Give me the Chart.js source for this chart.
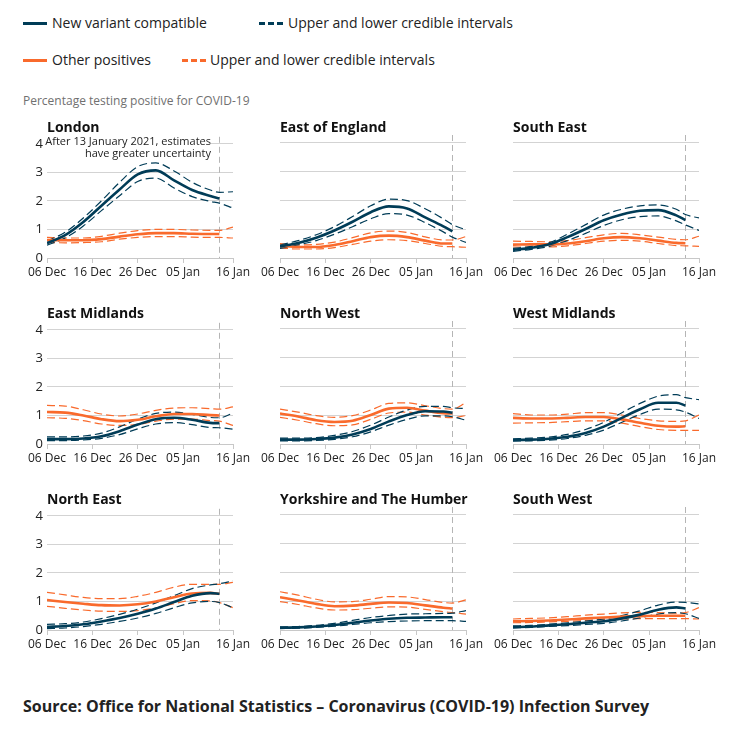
<!DOCTYPE html>
<html><head><meta charset="utf-8">
<script src="https://cdn.jsdelivr.net/npm/chart.js@4.4.1/dist/chart.umd.min.js"></script>
<style>
html,body{margin:0;padding:0;background:#fff;}
body{width:742px;height:729px;position:relative;overflow:hidden;font-family:"Open Sans",sans-serif;color:#222;}
.abs{position:absolute;white-space:nowrap;}
.leg{font-size:14px;line-height:18px;}
.sw{position:absolute;height:3px;width:24px;}
.ttl{font-size:14px;font-weight:bold;line-height:18px;color:#111;}
canvas{position:absolute;}
.note{font-size:11px;line-height:11.6px;text-align:right;}
.note span.bg{background:#fff;}
</style></head>
<body>
<script>
// ---- data ----
const X_TICK_DAYS = [0, 10, 20, 30, 41];
const X_TICK_LABELS = ['06 Dec', '16 Dec', '26 Dec', '05 Jan', '16 Jan'];
const Y_TICKS = [0, 1, 2, 3, 4];
const CUTOFF_DAY = 38; // 13 January
const DAYS_MAIN = [0, 4, 8, 12, 16, 20, 24, 28, 32, 36, 38];
const DAYS_CI = [0, 4, 8, 12, 16, 20, 24, 28, 32, 36, 38, 41];
const REGION_NAMES = ['London', 'East of England', 'South East', 'East Midlands', 'North West', 'West Midlands', 'North East', 'Yorkshire and The Humber', 'South West'];

const LON_NV = [0.52,0.8,1.26,1.83,2.4,2.93,3.07,2.72,2.38,2.17,2.08];
const LON_NV_HI = [0.6,0.9,1.4,2.0,2.65,3.2,3.33,3.05,2.65,2.38,2.3,2.32];
const LON_NV_LO = [0.45,0.7,1.12,1.66,2.18,2.68,2.8,2.45,2.15,1.98,1.92,1.75];
const LON_OP = [0.63,0.62,0.62,0.66,0.75,0.83,0.87,0.87,0.85,0.84,0.84];
const LON_OP_HI = [0.72,0.7,0.7,0.76,0.87,0.96,1.0,1.0,0.98,0.97,0.97,1.08];
const LON_OP_LO = [0.55,0.53,0.54,0.57,0.66,0.72,0.75,0.75,0.73,0.72,0.72,0.7];

const EOE_NV = [0.4,0.52,0.7,0.95,1.25,1.58,1.78,1.71,1.4,1.09,0.92];
const EOE_NV_HI = [0.45,0.6,0.8,1.08,1.43,1.8,2.03,1.98,1.7,1.35,1.15,0.97];
const EOE_NV_LO = [0.33,0.45,0.6,0.82,1.08,1.35,1.53,1.48,1.22,0.9,0.72,0.54];
const EOE_OP = [0.42,0.38,0.38,0.45,0.58,0.72,0.77,0.72,0.6,0.5,0.5];
const EOE_OP_HI = [0.5,0.45,0.47,0.55,0.7,0.87,0.93,0.88,0.73,0.62,0.62,0.74];
const EOE_OP_LO = [0.35,0.31,0.31,0.36,0.47,0.58,0.63,0.6,0.5,0.4,0.39,0.37];

const SE_NV = [0.28,0.35,0.47,0.72,1.0,1.3,1.5,1.63,1.65,1.47,1.31];
const SE_NV_HI = [0.33,0.4,0.53,0.82,1.15,1.48,1.68,1.8,1.83,1.68,1.5,1.38];
const SE_NV_LO = [0.23,0.3,0.4,0.6,0.85,1.12,1.32,1.43,1.45,1.28,1.14,0.95];
const SE_OP = [0.46,0.47,0.47,0.5,0.58,0.68,0.72,0.68,0.6,0.52,0.51];
const SE_OP_HI = [0.58,0.57,0.56,0.6,0.7,0.8,0.85,0.8,0.72,0.64,0.63,0.75];
const SE_OP_LO = [0.38,0.38,0.38,0.42,0.5,0.58,0.61,0.58,0.5,0.43,0.42,0.4];

const EM_NV = [0.17,0.17,0.19,0.27,0.45,0.68,0.87,0.92,0.85,0.74,0.73];
const EM_NV_HI = [0.25,0.25,0.28,0.38,0.6,0.87,1.07,1.12,1.04,0.93,0.92,1.08];
const EM_NV_LO = [0.12,0.12,0.14,0.2,0.33,0.53,0.7,0.75,0.68,0.58,0.57,0.52];
const EM_OP = [1.12,1.1,1.0,0.87,0.8,0.85,0.97,1.05,1.05,1.01,1.0];
const EM_OP_HI = [1.35,1.33,1.2,1.05,0.98,1.05,1.18,1.26,1.27,1.24,1.22,1.3];
const EM_OP_LO = [0.92,0.9,0.82,0.7,0.65,0.68,0.8,0.87,0.87,0.82,0.8,0.65];

const NW_NV = [0.15,0.15,0.17,0.22,0.33,0.52,0.78,1.0,1.13,1.12,1.08];
const NW_NV_HI = [0.2,0.2,0.22,0.3,0.43,0.65,0.93,1.17,1.3,1.3,1.25,1.22];
const NW_NV_LO = [0.11,0.11,0.12,0.16,0.25,0.42,0.65,0.85,0.97,0.97,0.94,0.82];
const NW_OP = [1.05,0.95,0.82,0.76,0.8,1.0,1.22,1.25,1.15,1.06,1.05];
const NW_OP_HI = [1.2,1.1,0.98,0.92,0.98,1.17,1.4,1.42,1.32,1.22,1.2,1.43];
const NW_OP_LO = [0.92,0.82,0.7,0.63,0.66,0.85,1.07,1.1,1.0,0.92,0.91,0.98];

const WM_NV = [0.14,0.15,0.18,0.25,0.38,0.6,0.9,1.2,1.42,1.42,1.33];
const WM_NV_HI = [0.18,0.2,0.24,0.33,0.5,0.75,1.08,1.4,1.65,1.7,1.6,1.53];
const WM_NV_LO = [0.1,0.11,0.13,0.19,0.3,0.48,0.75,1.02,1.2,1.18,1.1,0.88];
const WM_OP = [0.9,0.88,0.88,0.9,0.93,0.93,0.85,0.73,0.63,0.6,0.61];
const WM_OP_HI = [1.05,1.0,1.0,1.03,1.08,1.08,1.0,0.88,0.8,0.78,0.8,1.0];
const WM_OP_LO = [0.72,0.73,0.74,0.77,0.8,0.8,0.72,0.6,0.5,0.47,0.47,0.47];

const NE_NV = [0.11,0.14,0.2,0.3,0.42,0.57,0.75,0.98,1.2,1.29,1.27];
const NE_NV_HI = [0.2,0.22,0.28,0.4,0.55,0.73,0.95,1.2,1.45,1.58,1.62,1.72];
const NE_NV_LO = [0.05,0.07,0.12,0.2,0.3,0.42,0.58,0.78,0.95,1.0,0.96,0.78];
const NE_OP = [1.05,0.98,0.92,0.87,0.86,0.9,1.0,1.15,1.28,1.3,1.26];
const NE_OP_HI = [1.32,1.23,1.14,1.1,1.1,1.18,1.32,1.5,1.6,1.6,1.6,1.67];
const NE_OP_LO = [0.83,0.76,0.7,0.66,0.65,0.68,0.77,0.92,1.03,1.02,0.96,0.78];

const YH_NV = [0.08,0.09,0.12,0.17,0.25,0.33,0.39,0.42,0.43,0.44,0.44];
const YH_NV_HI = [0.11,0.12,0.16,0.23,0.33,0.43,0.5,0.55,0.56,0.57,0.58,0.67];
const YH_NV_LO = [0.05,0.06,0.09,0.13,0.19,0.25,0.29,0.31,0.32,0.32,0.32,0.3];
const YH_OP = [1.13,1.02,0.9,0.82,0.84,0.9,0.95,0.93,0.85,0.77,0.74];
const YH_OP_HI = [1.32,1.2,1.06,0.97,0.98,1.06,1.15,1.14,1.05,0.95,0.93,1.04];
const YH_OP_LO = [0.98,0.88,0.76,0.69,0.7,0.75,0.8,0.79,0.71,0.63,0.6,0.55];

const SW_NV = [0.1,0.12,0.16,0.2,0.25,0.3,0.4,0.53,0.7,0.78,0.74];
const SW_NV_HI = [0.14,0.16,0.2,0.25,0.31,0.38,0.5,0.66,0.86,0.96,0.95,0.9];
const SW_NV_LO = [0.07,0.09,0.12,0.15,0.19,0.23,0.31,0.42,0.55,0.6,0.56,0.4];
const SW_OP = [0.3,0.31,0.33,0.36,0.4,0.43,0.46,0.48,0.49,0.49,0.49];
const SW_OP_HI = [0.38,0.4,0.42,0.46,0.51,0.55,0.59,0.61,0.6,0.58,0.6,0.77];
const SW_OP_LO = [0.25,0.26,0.28,0.3,0.33,0.36,0.38,0.39,0.39,0.39,0.39,0.38];

// ---- build ----
const REGION_SERIES = [
  [LON_NV, LON_NV_HI, LON_NV_LO, LON_OP, LON_OP_HI, LON_OP_LO],
  [EOE_NV, EOE_NV_HI, EOE_NV_LO, EOE_OP, EOE_OP_HI, EOE_OP_LO],
  [SE_NV, SE_NV_HI, SE_NV_LO, SE_OP, SE_OP_HI, SE_OP_LO],
  [EM_NV, EM_NV_HI, EM_NV_LO, EM_OP, EM_OP_HI, EM_OP_LO],
  [NW_NV, NW_NV_HI, NW_NV_LO, NW_OP, NW_OP_HI, NW_OP_LO],
  [WM_NV, WM_NV_HI, WM_NV_LO, WM_OP, WM_OP_HI, WM_OP_LO],
  [NE_NV, NE_NV_HI, NE_NV_LO, NE_OP, NE_OP_HI, NE_OP_LO],
  [YH_NV, YH_NV_HI, YH_NV_LO, YH_OP, YH_OP_HI, YH_OP_LO],
  [SW_NV, SW_NV_HI, SW_NV_LO, SW_OP, SW_OP_HI, SW_OP_LO]
];

const DARK = '#003c57';
const ORANGE = '#f96a2c';
const GRID = '#d3d3d3';
const FONT = '"Open Sans", sans-serif';

function addDiv(cls, left, top, html, extra) {
  const d = document.createElement('div');
  d.className = 'abs ' + cls;
  d.style.left = left + 'px';
  d.style.top = top + 'px';
  d.innerHTML = html;
  if (extra) Object.assign(d.style, extra);
  document.body.appendChild(d);
  return d;
}

// Legend
function swatch(left, y, color, dashed) {
  const d = document.createElement('div');
  d.className = 'sw';
  d.style.left = left + 'px';
  d.style.top = (y - 1.5) + 'px';
  d.style.background = dashed
    ? 'repeating-linear-gradient(to right,' + color + ' 0 6px, transparent 6px 9px)'
    : color;
  document.body.appendChild(d);
}
swatch(23, 23, DARK, false);
addDiv('leg', 52, 14, 'New variant compatible');
swatch(259, 23, DARK, true);
addDiv('leg', 288, 14, 'Upper and lower credible intervals');
swatch(23, 60, ORANGE, false);
addDiv('leg', 52, 51, 'Other positives');
swatch(182, 60, ORANGE, true);
addDiv('leg', 210, 51, 'Upper and lower credible intervals');

addDiv('', 23, 93, 'Percentage testing positive for COVID-19', {fontSize: '12px', lineHeight: '16px', color: '#707070'});
addDiv('', 23, 695, 'Source: Office for National Statistics – Coronavirus (COVID-19) Infection Survey', {fontSize: '16px', lineHeight: '22px', fontWeight: 'bold', color: '#222'});

const vline = {
  id: 'vline',
  beforeDatasetsDraw(chart) {
    const {ctx, chartArea: a, scales: {x}} = chart;
    const px = Math.round(x.getPixelForValue(CUTOFF_DAY)) + 0.5;
    ctx.save();
    ctx.strokeStyle = '#b5b5b5';
    ctx.lineWidth = 1;
    ctx.setLineDash([6, 4]);
    ctx.beginPath();
    ctx.moveTo(px, a.top - 7);
    ctx.lineTo(px, a.bottom);
    ctx.stroke();
    ctx.restore();
  }
};

const AREA_TOPS = [142, 328, 514];
const AREA_H = 116;
const COL_LEFT = [20, 253, 486];
const CANVAS_W = 233, PAD_TOP = 10, XAX_H = 26;

function pts(days, vals) { return vals.map((v, i) => ({x: days[i], y: v})); }

REGION_NAMES.forEach((name, i) => {
  const col = i % 3, row = Math.floor(i / 3);
  const s = REGION_SERIES[i];
  const cv = document.createElement('canvas');
  cv.width = CANVAS_W;
  cv.height = PAD_TOP + AREA_H + XAX_H;
  cv.style.left = COL_LEFT[col] + 'px';
  cv.style.top = (AREA_TOPS[row] - PAD_TOP) + 'px';
  cv.style.width = CANVAS_W + 'px';
  cv.style.height = cv.height + 'px';
  document.body.appendChild(cv);
  addDiv('ttl', COL_LEFT[col] + 27, AREA_TOPS[row] - 24, name);

  const solid = (data, color, order) => ({data, borderColor: color, borderWidth: 2.6, pointRadius: 0, cubicInterpolationMode: 'monotone', fill: false, order});
  const dash = (data, color, order) => ({data, borderColor: color, borderWidth: 1.2, borderDash: [8, 4], pointRadius: 0, cubicInterpolationMode: 'monotone', fill: false, order});

  new Chart(cv, {
    type: 'line',
    data: {
      datasets: [
        solid(pts(DAYS_MAIN, s[0]), DARK, 0),
        solid(pts(DAYS_MAIN, s[3]), ORANGE, 1),
        dash(pts(DAYS_CI, s[1]), DARK, 2),
        dash(pts(DAYS_CI, s[2]), DARK, 2),
        dash(pts(DAYS_CI, s[4]), ORANGE, 3),
        dash(pts(DAYS_CI, s[5]), ORANGE, 3)
      ]
    },
    options: {
      responsive: false,
      animation: false,
      devicePixelRatio: 1,
      layout: {padding: {top: PAD_TOP, right: 20, left: 0, bottom: 0}},
      plugins: {legend: {display: false}, tooltip: {enabled: false}},
      scales: {
        x: {
          type: 'linear', min: 0, max: 41,
          afterBuildTicks: sc => { sc.ticks = X_TICK_DAYS.map(v => ({value: v})); },
          afterFit: sc => { sc.height = XAX_H; },
          grid: {drawOnChartArea: false, drawTicks: true, tickLength: 5, color: '#c8c8c8'},
          border: {display: true, color: '#c8c8c8'},
          ticks: {
            autoSkip: false, maxRotation: 0, padding: 2, color: '#222',
            font: {family: FONT, size: 12},
            callback: v => X_TICK_LABELS[X_TICK_DAYS.indexOf(v)]
          }
        },
        y: {
          min: 0, max: 4,
          afterBuildTicks: sc => { sc.ticks = Y_TICKS.map(v => ({value: v})); },
          afterFit: sc => { sc.width = 27; },
          grid: {color: GRID, drawTicks: false},
          border: {display: false},
          ticks: {display: col === 0, padding: 4, color: '#222', font: {family: FONT, size: 13}}
        }
      }
    },
    plugins: [vline]
  });
});

// London annotation
addDiv('note', 0, 135, '<span class="bg">After 13 January 2021, estimates</span><br><span>have greater uncertainty</span>', {left: 'auto', right: (742 - 211) + 'px'});
</script>
</body></html>
